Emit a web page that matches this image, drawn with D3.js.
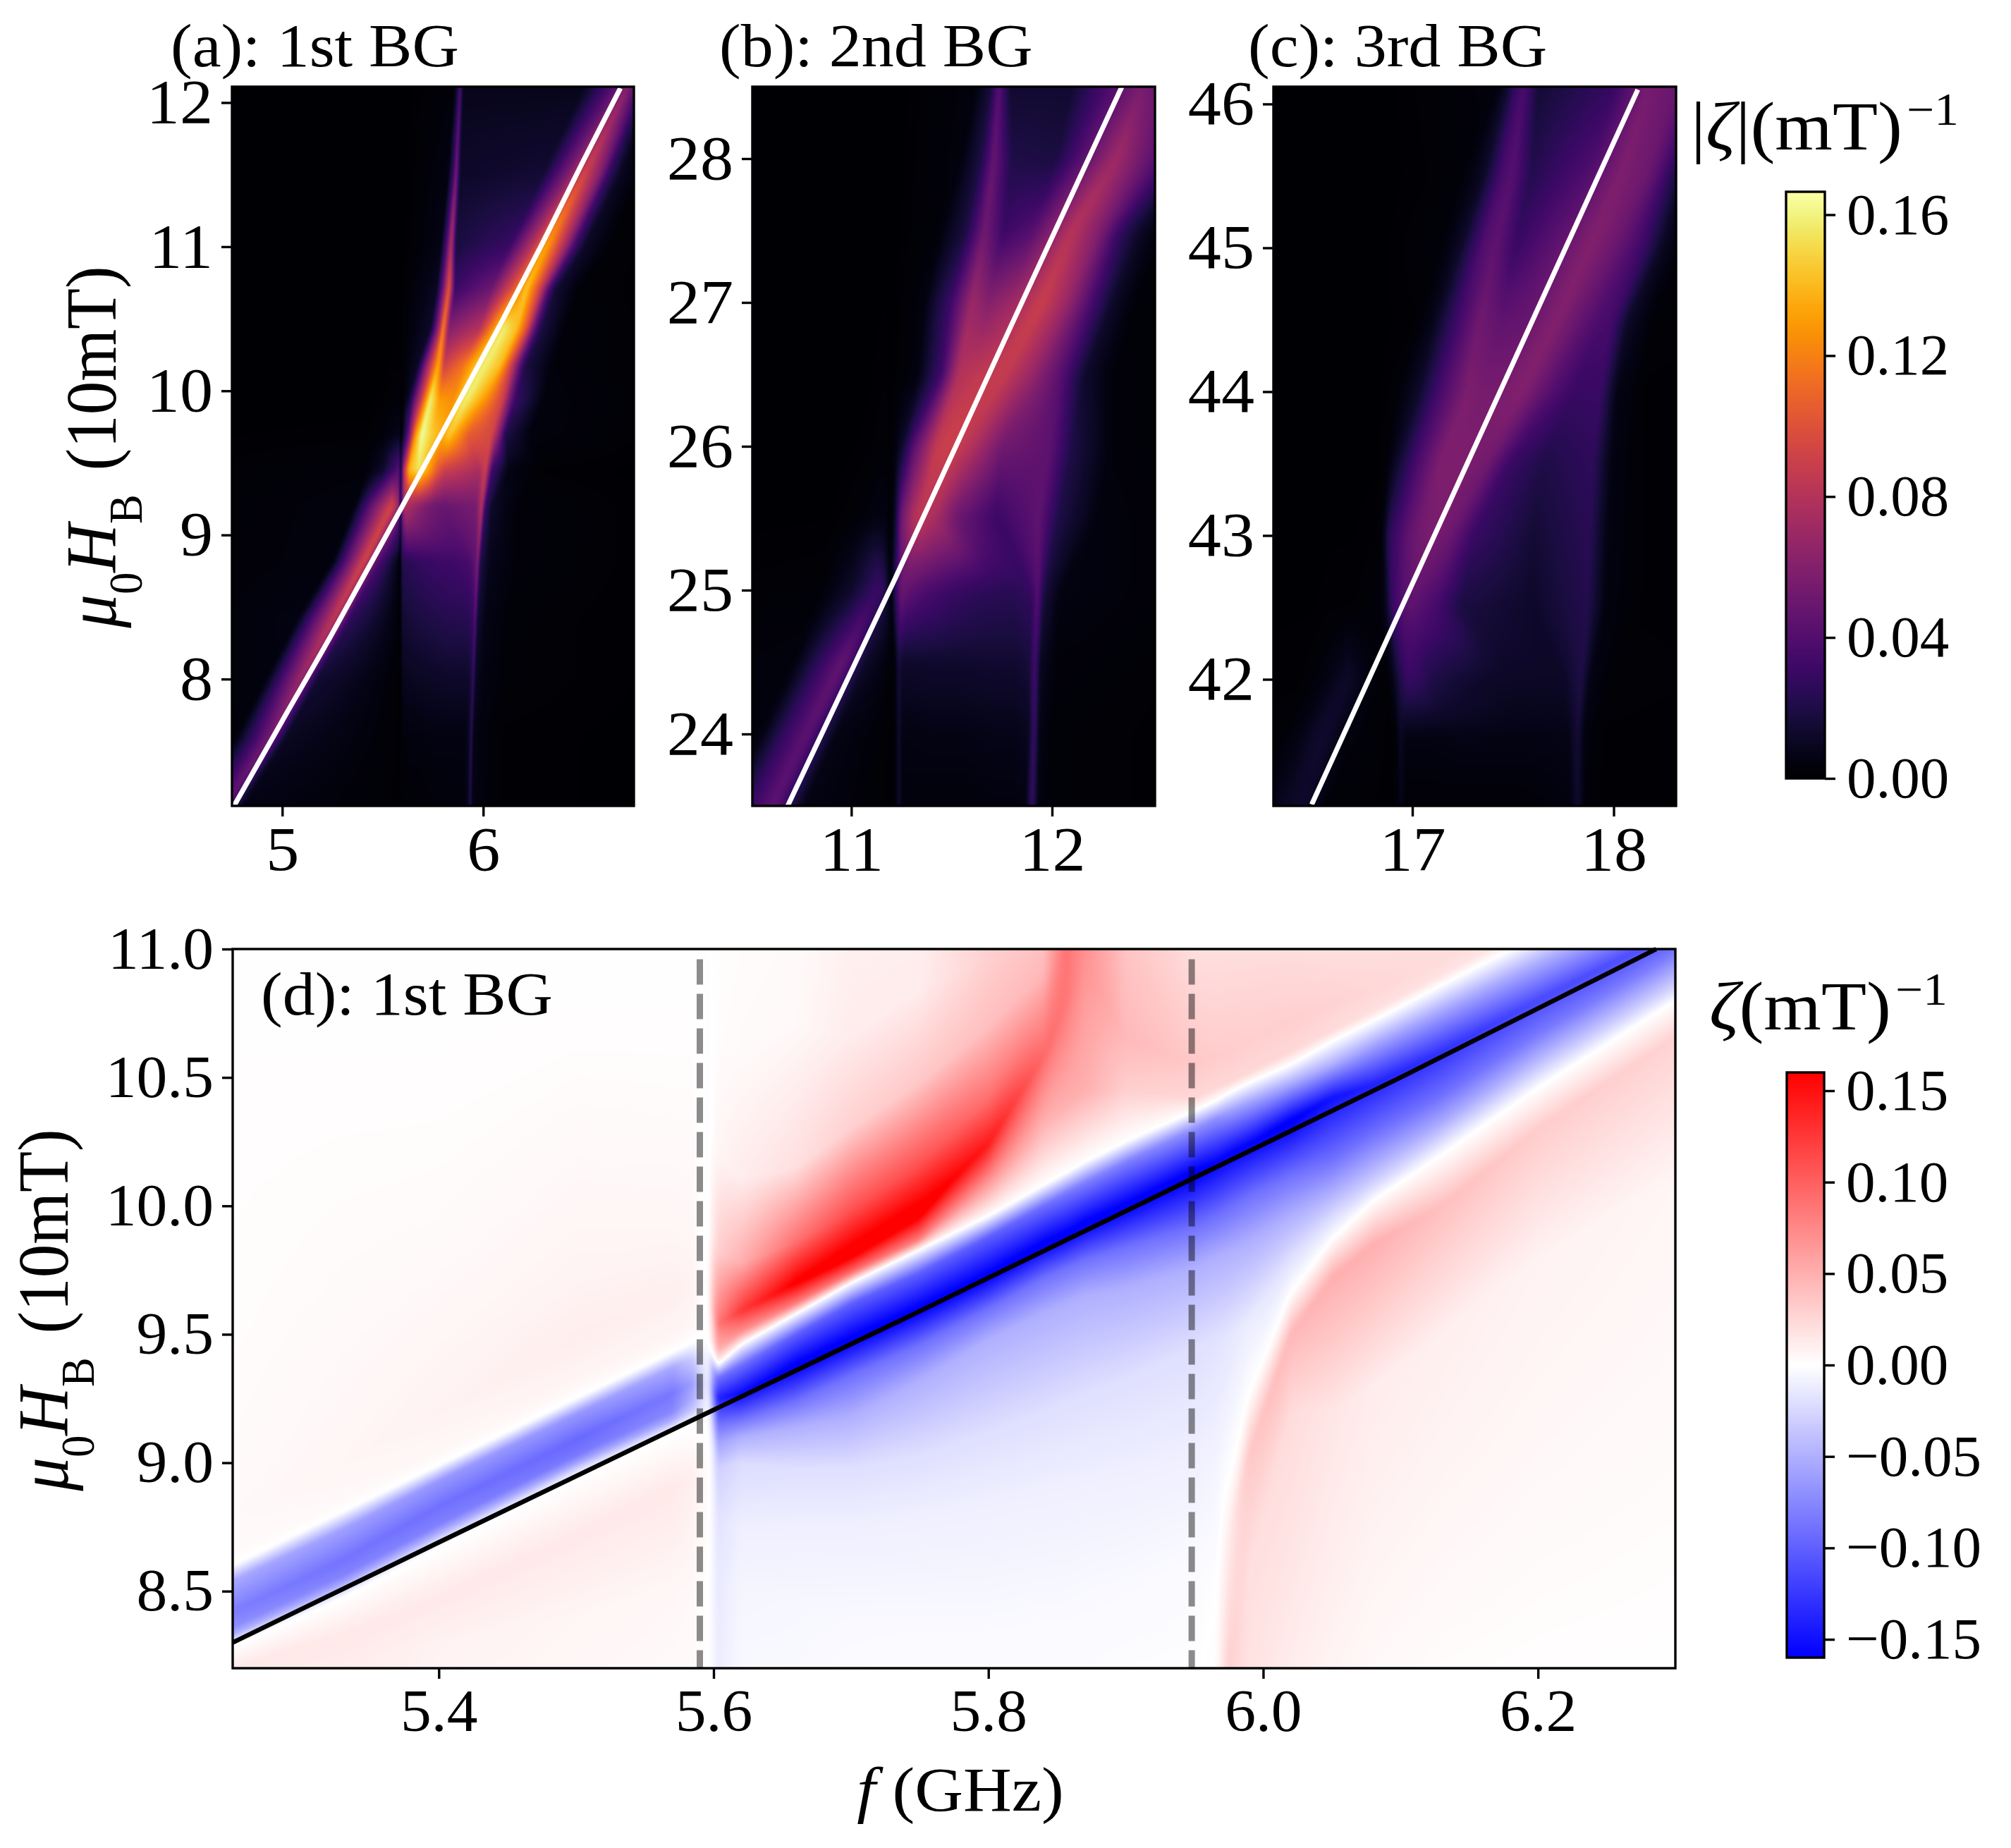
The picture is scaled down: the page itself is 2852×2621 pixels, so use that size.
<!DOCTYPE html>
<html>
<head>
<meta charset="utf-8">
<script src="https://cdnjs.cloudflare.com/ajax/libs/d3/7.8.5/d3.min.js"></script>
<style>
  html, body { margin: 0; padding: 0; background: #fff; }
  svg { display: block; }
  text { font-family: "Liberation Serif", serif; fill: #000; }
</style>
</head>
<body>
<svg id="fig" width="2852" height="2621"></svg>
<script>
// ---------- panel (a): cross-sections read along rows of constant field
const fieldA = [7.12, 7.6, 8.0, 8.4, 8.81, 9.2, 9.45, 9.69, 9.94, 10.18, 10.43, 10.71, 11.0, 11.5, 12.11];
const freqA = [
  [4,4.55,4.64,4.72,4.80,5.58,5.59,5.597,5.63,5.68,5.75,5.82,5.88,5.90,5.925,5.935,5.945,5.98,6.1,7],
  [4,4.77,4.86,4.945,5.02,5.58,5.59,5.597,5.63,5.68,5.75,5.82,5.88,5.91,5.93,5.94,5.95,5.985,6.1,7],
  [4,4.92,5.01,5.095,5.17,5.58,5.59,5.597,5.63,5.68,5.75,5.82,5.88,5.92,5.94,5.95,5.96,6.0,6.12,7],
  [4,5.07,5.17,5.25,5.33,5.575,5.588,5.597,5.63,5.68,5.75,5.82,5.88,5.925,5.95,5.96,5.97,6.01,6.13,7],
  [4,5.25,5.33,5.405,5.47,5.578,5.588,5.597,5.63,5.70,5.78,5.85,5.90,5.935,5.962,5.972,5.986,6.03,6.157,7],
  [4,5.36,5.45,5.545,5.575,5.584,5.589,5.597,5.61,5.64,5.68,5.72,5.76,5.80,5.965,5.993,6.01,6.04,6.16,7],
  [4,5.42,5.50,5.55,5.575,5.584,5.589,5.597,5.605,5.631,5.678,5.724,5.77,5.806,5.98,6.012,6.045,6.13,6.3,7],
  [4,5.42,5.50,5.55,5.575,5.584,5.589,5.597,5.631,5.66,5.692,5.748,5.796,5.83,5.923,6.04,6.068,6.11,6.23,7],
  [4,5.42,5.50,5.55,5.575,5.584,5.589,5.597,5.631,5.689,5.736,5.783,5.853,5.912,6.005,6.10,6.13,6.16,6.3,7],
  [4,5.42,5.50,5.55,5.575,5.584,5.589,5.597,5.678,5.748,5.777,5.806,5.90,6.005,6.09,6.15,6.185,6.215,6.35,7],
  [4,5.42,5.50,5.55,5.575,5.584,5.589,5.597,5.74,5.78,5.80,5.83,5.982,6.10,6.17,6.22,6.25,6.285,6.4,7],
  [4,5.42,5.50,5.55,5.575,5.584,5.589,5.597,5.77,5.80,5.83,5.86,6.04,6.157,6.215,6.29,6.325,6.36,6.48,7],
  [4,5.42,5.50,5.55,5.575,5.584,5.589,5.597,5.79,5.815,5.84,5.865,6.13,6.26,6.31,6.41,6.45,6.5,6.63,7],
  [4,5.42,5.50,5.55,5.575,5.584,5.589,5.597,5.825,5.85,5.865,5.885,6.3,6.43,6.50,6.58,6.62,6.68,6.8,7],
  [4,5.42,5.50,5.55,5.575,5.584,5.589,5.597,5.855,5.875,5.885,5.9,6.5,6.65,6.72,6.78,6.82,6.86,6.95,7]
];
const zetaA = [
  [0,.003,.025,.045,.006,.001,.001,.001,.002,.002,.003,.003,.003,.004,.008,.024,.006,.004,.001,0],
  [0,.003,.03,.055,.01,.001,.001,.003,.004,.004,.005,.005,.005,.005,.01,.026,.007,.004,.001,0],
  [0,.004,.04,.07,.015,.001,0,.008,.009,.01,.011,.012,.012,.012,.016,.032,.01,.005,.002,0],
  [0,.005,.05,.085,.025,.003,0,.014,.016,.018,.02,.022,.022,.023,.028,.044,.014,.006,.002,0],
  [0,.004,.05,.095,.04,.005,0,.022,.024,.028,.031,.032,.034,.036,.045,.06,.02,.008,.003,0],
  [0,.004,.05,.095,.075,.05,0,.06,.08,.072,.062,.055,.05,.048,.055,.08,.03,.012,.003,0],
  [0,.003,.012,.03,.04,.04,0,.05,.08,.14,.155,.135,.105,.09,.075,.09,.03,.005,.001,0],
  [0,.001,.003,.006,.008,.009,.001,.004,.05,.125,.165,.145,.135,.145,.105,.095,.07,.02,.004,0],
  [0,0,.001,.002,.003,.003,.0005,.001,.012,.085,.16,.13,.125,.16,.13,.09,.055,.03,.004,0],
  [0,0,0,.001,.001,.001,0,.001,.012,.10,.135,.09,.115,.16,.14,.08,.04,.018,.003,0],
  [0,0,0,0,.001,.001,0,.001,.012,.07,.122,.06,.08,.16,.14,.095,.05,.02,.003,0],
  [0,0,0,0,.0005,.0005,0,.0005,.01,.05,.105,.03,.05,.105,.145,.085,.04,.015,.002,0],
  [0,0,0,0,0,0,0,0,.006,.035,.08,.018,.03,.09,.135,.07,.035,.012,.002,0],
  [0,0,0,0,0,0,0,0,.005,.028,.055,.012,.015,.06,.095,.06,.03,.01,.001,0],
  [0,0,0,0,0,0,0,0,.003,.018,.04,.008,.008,.04,.06,.03,.015,.005,.001,0]
];
const lineAf = [4.76, 5.0, 5.25, 5.4, 5.59, 5.75, 5.95, 6.1, 6.286, 6.5, 6.683];
const lineAh = [7.12, 7.71, 8.32, 8.7, 9.18, 9.59, 10.11, 10.5, 11.0, 11.6, 12.1];

// ---------- panel (b)
const fieldB = [23.5, 24, 24.5, 25, 25.5, 26, 26.5, 27, 27.5, 28, 28.5];
const freqB = [
  [9.5,10.35,10.5,10.61,10.76,11.19,11.21,11.226,11.236,11.25,11.4,11.55,11.7,11.82,11.87,11.90,11.93,12.0,13],
  [9.5,10.55,10.68,10.78,10.92,11.19,11.21,11.226,11.236,11.25,11.4,11.55,11.7,11.82,11.885,11.91,11.935,12.0,13],
  [9.5,10.72,10.85,10.96,11.07,11.19,11.208,11.226,11.236,11.25,11.4,11.55,11.7,11.82,11.89,11.915,11.94,12.02,13],
  [9.5,10.85,11.0,11.13,11.16,11.185,11.198,11.222,11.25,11.29,11.36,11.5,11.65,11.8,11.9,11.93,11.96,12.04,13],
  [9.5,10.9,11.02,11.1,11.15,11.175,11.195,11.22,11.245,11.31,11.345,11.37,11.42,11.52,11.72,11.935,12.03,12.23,13],
  [9.5,10.9,11.02,11.1,11.15,11.175,11.195,11.22,11.26,11.31,11.42,11.46,11.515,11.60,11.75,11.99,12.1,12.3,13],
  [9.5,10.9,11.02,11.1,11.15,11.175,11.195,11.22,11.33,11.45,11.53,11.62,11.69,11.76,11.89,12.05,12.16,12.3,13],
  [9.5,10.9,11.02,11.1,11.15,11.175,11.195,11.22,11.36,11.49,11.60,11.68,11.80,11.95,12.07,12.2,12.3,12.42,13],
  [9.5,10.9,11.02,11.1,11.15,11.175,11.195,11.22,11.44,11.57,11.665,11.76,11.9,12.1,12.24,12.35,12.45,12.55,13],
  [9.5,10.9,11.02,11.1,11.15,11.175,11.195,11.22,11.55,11.65,11.71,11.80,12.02,12.32,12.45,12.6,12.7,12.8,13],
  [9.5,10.9,11.02,11.1,11.15,11.175,11.195,11.22,11.62,11.70,11.735,11.79,12.1,12.45,12.6,12.75,12.85,12.95,13]
];
const zetaB = [
  [0,.004,.03,.045,.006,.001,.0005,.004,.018,.004,.003,.003,.004,.004,.006,.03,.005,.002,0],
  [0,.004,.03,.045,.006,.001,.0005,.004,.018,.005,.006,.006,.007,.007,.009,.032,.006,.002,0],
  [0,.004,.028,.048,.012,.003,.0005,.008,.02,.012,.013,.013,.014,.014,.017,.036,.01,.003,0],
  [0,.002,.012,.03,.028,.012,.0005,.03,.05,.045,.038,.03,.025,.024,.028,.042,.018,.005,0],
  [0,.0005,.002,.004,.005,.005,.0005,.012,.05,.08,.085,.08,.074,.05,.03,.045,.02,.004,0],
  [0,0,.0005,.001,.002,.002,.0005,.004,.015,.042,.086,.09,.09,.08,.052,.044,.02,.003,0],
  [0,0,0,.0005,.001,.001,.0003,.001,.004,.032,.078,.085,.087,.088,.07,.04,.013,.003,0],
  [0,0,0,.0003,.0005,.0005,.0002,.0005,.004,.03,.07,.06,.07,.09,.07,.035,.012,.002,0],
  [0,0,0,0,.0003,.0003,0,.0003,.003,.018,.052,.03,.04,.082,.058,.025,.01,.003,0],
  [0,0,0,0,0,0,0,0,.004,.02,.048,.02,.018,.072,.052,.03,.012,.004,0],
  [0,0,0,0,0,0,0,0,.004,.018,.042,.014,.014,.056,.042,.02,.008,.002,0]
];
const lineBf = [10.683, 11.218, 11.8, 12.348];
const lineBh = [23.5, 25.08, 26.85, 28.5];

// ---------- panel (c)
const fieldC = [41.12, 41.6, 42, 42.5, 43, 43.5, 44, 44.5, 45, 45.5, 46.12];
const freqC = [
  [15.5,16.285,16.364,16.457,16.577,16.87,16.91,16.93,16.943,16.963,17.1,17.216,17.4,17.55,17.68,17.787,17.821,17.854,17.947,19],
  [15.5,16.35,16.42,16.55,16.68,16.87,16.90,16.925,16.94,16.965,17.1,17.25,17.45,17.55,17.68,17.78,17.82,17.855,17.95,19],
  [15.5,16.45,16.55,16.68,16.8,16.85,16.87,16.9,16.94,16.98,17.04,17.09,17.22,17.35,17.5,17.75,17.84,17.88,17.97,19],
  [15.5,16.5,16.6,16.7,16.78,16.83,16.85,16.875,16.9,16.95,16.97,16.99,17.05,17.11,17.24,17.6,17.87,17.96,18.15,19],
  [15.5,16.5,16.6,16.7,16.78,16.82,16.84,16.855,16.883,16.976,17.03,17.08,17.13,17.19,17.3,17.6,17.88,17.97,18.15,19],
  [15.5,16.5,16.6,16.7,16.78,16.82,16.84,16.87,16.92,17.016,17.136,17.2,17.27,17.375,17.48,17.65,17.895,17.99,18.15,19],
  [15.5,16.5,16.6,16.7,16.78,16.82,16.84,16.92,17.03,17.136,17.27,17.35,17.42,17.548,17.695,17.8,17.935,18.015,18.15,19],
  [15.5,16.5,16.6,16.7,16.78,16.82,16.84,17.02,17.11,17.215,17.335,17.44,17.56,17.72,17.855,17.93,17.99,18.07,18.19,19],
  [15.5,16.5,16.6,16.7,16.78,16.82,16.84,17.15,17.24,17.35,17.415,17.51,17.735,17.88,18.0,18.08,18.15,18.24,18.32,19],
  [15.5,16.5,16.6,16.7,16.78,16.82,16.84,17.24,17.35,17.44,17.495,17.59,17.88,18.03,18.17,18.22,18.28,18.35,18.42,19],
  [15.5,16.5,16.6,16.7,16.78,16.82,16.84,17.43,17.48,17.52,17.555,17.63,18.0,18.17,18.32,18.38,18.45,18.55,18.65,19]
];
const zetaC = [
  [0,.006,.01,.013,.002,.001,.001,.002,.009,.002,.002,.002,.002,.002,.003,.004,.014,.003,.001,0],
  [0,.002,.005,.014,.004,.001,.001,.003,.011,.005,.005,.006,.006,.006,.006,.007,.016,.004,.001,0],
  [0,.001,.004,.012,.004,.002,.001,.006,.02,.03,.027,.02,.015,.012,.011,.011,.02,.006,.002,0],
  [0,.0005,.001,.001,.002,.003,.004,.012,.03,.04,.043,.045,.04,.035,.018,.012,.022,.004,.001,0],
  [0,0,.0005,.0005,.001,.001,.002,.006,.025,.045,.052,.056,.054,.05,.03,.015,.024,.005,.001,0],
  [0,0,0,0,.0003,.0005,.001,.002,.012,.035,.058,.058,.057,.052,.03,.02,.026,.005,.001,0],
  [0,0,0,0,0,.0003,.0005,.002,.012,.035,.057,.055,.055,.06,.04,.03,.03,.006,.001,0],
  [0,0,0,0,0,.0002,.0003,.001,.008,.03,.052,.045,.047,.06,.045,.037,.035,.012,.002,0],
  [0,0,0,0,0,.0002,.0002,.003,.012,.04,.045,.03,.047,.06,.05,.04,.03,.01,.004,0],
  [0,0,0,0,0,0,0,.002,.01,.035,.042,.022,.04,.058,.05,.04,.025,.01,.003,0],
  [0,0,0,0,0,0,0,.004,.015,.03,.036,.015,.028,.055,.048,.04,.03,.012,.002,0]
];
const lineCf = [16.5, 18.12];
const lineCh = [41.13, 46.1];

// ---------- panel (d): cross-sections read along columns of constant frequency
const freqD = [5.25,5.33,5.4,5.5,5.57,5.585,5.596,5.603,5.62,5.66,5.70,5.75,5.80,5.84,5.857,5.87,5.90,5.95,5.966,5.975,5.99,6.02,6.05,6.08,6.13,6.2,6.3];
const fieldD = [
  [7.5,8.1,8.2,8.286,8.31,8.33,8.36,8.42,8.54,8.6,8.65,8.8,9.0,9.5,10.5,12],
  [7.5,8.2,8.33,8.475,8.5,8.53,8.56,8.62,8.74,8.81,8.86,9.0,9.2,9.7,10.5,12],
  [7.5,8.3,8.47,8.67,8.7,8.73,8.76,8.83,8.93,8.99,9.05,9.2,9.45,9.9,10.5,12],
  [7.5,8.4,8.72,8.94,8.97,9.0,9.03,9.09,9.19,9.25,9.31,9.48,9.75,10.2,10.7,12],
  [7.5,8.5,8.9,9.11,9.14,9.17,9.2,9.27,9.37,9.43,9.49,9.65,9.9,10.3,10.7,12],
  [7.5,8.5,8.95,9.15,9.18,9.21,9.25,9.31,9.41,9.47,9.53,9.68,9.92,10.3,10.7,12],
  [7.5,8.5,8.95,9.15,9.18,9.21,9.25,9.31,9.41,9.47,9.53,9.68,9.92,10.3,10.7,12],
  [7.5,8.2,8.55,8.78,8.98,9.08,9.15,9.25,9.33,9.38,9.44,9.54,9.82,10.2,10.6,12],
  [7.5,8.2,8.5,8.75,9.0,9.1,9.17,9.27,9.38,9.46,9.51,9.59,9.78,10.1,10.6,12],
  [7.5,8.2,8.45,8.76,8.98,9.14,9.24,9.38,9.5,9.58,9.62,9.70,9.86,10.15,10.7,12],
  [7.5,8.2,8.4,8.76,8.98,9.18,9.34,9.48,9.62,9.70,9.74,9.81,9.98,10.30,10.66,12],
  [7.5,8.2,8.4,8.8,9.03,9.32,9.46,9.6,9.74,9.83,9.87,9.97,10.16,10.48,10.84,12],
  [7.5,8.2,8.4,8.85,9.12,9.48,9.6,9.73,9.88,9.96,10.1,10.24,10.42,10.7,10.96,12],
  [7.5,8.2,8.45,8.9,9.2,9.58,9.72,9.85,10.0,10.08,10.3,10.58,10.75,10.9,11.0,12],
  [7.5,8.2,8.45,8.92,9.24,9.62,9.76,9.89,10.05,10.13,10.4,10.8,10.95,11.05,11.15,12],
  [7.5,8.2,8.5,8.94,9.27,9.65,9.79,9.93,10.09,10.17,10.45,10.95,11.05,11.15,11.25,12],
  [7.5,8.2,8.55,8.97,9.33,9.68,9.84,10.0,10.17,10.25,10.45,10.65,10.85,11.05,11.3,12],
  [7.5,8.2,8.6,9.05,9.45,9.76,9.92,10.13,10.3,10.37,10.42,10.55,10.7,10.85,11,12],
  [7.5,8.2,8.55,9.0,9.48,9.8,9.96,10.17,10.34,10.41,10.46,10.58,10.72,10.86,11,12],
  [7.5,8.2,8.7,8.93,9.5,9.82,9.99,10.2,10.36,10.44,10.48,10.6,10.74,10.88,11,12],
  [8.2,8.6,9.04,9.27,9.55,9.86,10.04,10.24,10.40,10.48,10.52,10.64,10.78,10.9,11,12],
  [8.2,9.2,9.5,9.66,9.8,9.96,10.12,10.33,10.48,10.55,10.6,10.72,10.84,10.93,11,12],
  [8.2,9.2,9.72,9.87,9.95,10.05,10.18,10.42,10.55,10.64,10.68,10.78,10.88,10.95,11,12],
  [8.2,9.3,9.85,10.02,10.08,10.17,10.28,10.47,10.62,10.72,10.76,10.84,10.92,10.97,11.02,12],
  [8.2,9.5,10.0,10.2,10.26,10.33,10.43,10.6,10.75,10.86,10.9,10.95,11,11.05,11.1,12],
  [8.2,9.8,10.3,10.46,10.52,10.58,10.67,10.8,10.95,11.05,11.1,11.15,11.2,11.25,11.3,12],
  [8.2,10.1,10.66,10.8,10.85,10.91,10.98,11.07,11.2,11.3,11.35,11.4,11.45,11.5,11.55,12]
];
const zetaD = [
  [.006,.012,.014,0,-.022,-.05,-.072,-.082,-.055,0,.003,.004,.003,.002,.001,0],
  [.006,.012,.014,0,-.022,-.055,-.078,-.088,-.06,0,.004,.006,.005,.003,.001,0],
  [.004,.008,.014,0,-.022,-.055,-.08,-.09,-.065,0,.005,.008,.006,.003,.001,0],
  [.002,.006,.014,0,-.022,-.06,-.085,-.095,-.065,0,.006,.011,.007,.004,.001,0],
  [.001,.005,.014,0,-.02,-.055,-.075,-.085,-.055,0,.006,.01,.006,.003,.001,0],
  [.001,.004,.01,0,-.015,-.035,-.05,-.06,-.03,0,.005,.008,.005,.003,.001,0],
  [0,.001,.002,0,-.002,-.004,-.006,-.008,-.004,-.002,-.002,-.002,-.002,-.002,-.001,0],
  [-.004,-.012,-.014,-.018,-.03,-.06,-.09,-.14,-.09,0,.05,.085,.03,.006,.002,0],
  [-.002,-.004,-.006,-.01,-.022,-.05,-.09,-.155,-.09,0,.07,.125,.05,.012,.003,0],
  [-.002,-.004,-.005,-.01,-.02,-.05,-.09,-.165,-.1,0,.08,.165,.09,.02,.004,0],
  [-.002,-.003,-.004,-.01,-.02,-.05,-.09,-.165,-.1,0,.09,.175,.11,.03,.012,.003],
  [-.001,-.002,-.004,-.01,-.02,-.05,-.09,-.165,-.1,0,.08,.175,.11,.035,.012,.004],
  [-.001,-.002,-.004,-.01,-.02,-.05,-.09,-.165,-.1,0,.07,.145,.09,.04,.03,.01],
  [-.001,-.002,-.004,-.01,-.02,-.05,-.09,-.165,-.09,0,.045,.095,.07,.045,.04,.01],
  [-.001,-.002,-.004,-.01,-.02,-.05,-.09,-.165,-.085,0,.05,.085,.088,.09,.09,.03],
  [-.001,-.002,-.004,-.01,-.02,-.05,-.09,-.165,-.08,0,.05,.068,.07,.07,.06,.02],
  [-.001,-.0015,-.004,-.01,-.02,-.05,-.09,-.165,-.08,0,.03,.044,.04,.036,.032,.02],
  [-.0005,-.001,-.003,-.01,-.02,-.05,-.09,-.165,-.07,0,.025,.034,.03,.025,.02,.01],
  [0,.002,-.001,-.007,-.018,-.05,-.09,-.16,-.07,0,.025,.032,.028,.024,.02,.01],
  [.02,.03,.012,0,-.016,-.05,-.09,-.16,-.065,0,.025,.032,.028,.024,.02,.01],
  [.018,.02,.035,0,-.012,-.05,-.09,-.16,-.06,0,.025,.03,.027,.024,.02,.01],
  [.012,.022,.045,0,-.02,-.05,-.09,-.165,-.05,0,.025,.03,.026,.024,.02,.01],
  [.007,.016,.05,0,-.02,-.05,-.09,-.15,-.05,0,.022,.028,.025,.022,.02,.01],
  [.004,.012,.05,0,-.025,-.055,-.09,-.14,-.06,0,.02,.025,.023,.021,.02,.01],
  [.002,.01,.04,0,-.025,-.055,-.09,-.13,-.06,0,.018,.022,.021,.02,.02,.01],
  [.001,.008,.032,0,-.025,-.05,-.085,-.115,-.05,0,.015,.018,.018,.018,.018,.01],
  [.0005,.006,.028,0,-.025,-.05,-.08,-.11,-.05,0,.01,.012,.012,.012,.012,.01]
];
const lineDf = [5.25, 5.4, 5.59, 5.75, 5.95, 6.1, 6.286];
const lineDh = [8.3, 8.69, 9.18, 9.59, 10.11, 10.5, 11.0];
const dashedD = [5.59, 5.948];

// ---------- ticks and labels
const titles = ['(a): 1st BG', '(b): 2nd BG', '(c): 3rd BG', '(d): 1st BG'];
const ticksAx = [5, 6], ticksAy = [8, 9, 10, 11, 12];
const ticksBx = [11, 12], ticksBy = [24, 25, 26, 27, 28];
const ticksCx = [17, 18], ticksCy = [42, 43, 44, 45, 46];
const ticksDx = [5.4, 5.6, 5.8, 6.0, 6.2], ticksDy = [8.5, 9.0, 9.5, 10.0, 10.5, 11.0];
const ticksAbs = [0, 0.04, 0.08, 0.12, 0.16];
const ticksSigned = [-0.15, -0.10, -0.05, 0, 0.05, 0.10, 0.15];

const svg = d3.select('#fig');
const SX = 1.07;

// reference text runs a little wide, stretch it in x only
function stretch(sel, sx) {
  sel.each(function () {
    const x = +this.getAttribute('x') || 0;
    this.setAttribute('transform', `translate(${x * (1 - sx)},0) scale(${sx},1)`);
  });
}

const absColor = d3.scaleSequential(d3.interpolateInferno).domain([0, 0.1665]).clamp(true);
const signedColor = d3.scaleLinear().domain([-0.16, 0, 0.16]).range(['#0000ff', '#ffffff', '#ff0000']).clamp(true);

// running-sum box blur, takes the creases out of the shading
function blur1(src, n, stride, count, lineStride, r) {
  if (r < 1) return;
  const buf = new Float32Array(n);
  for (let l = 0; l < count; l++) {
    const base = l * lineStride;
    for (let i = 0; i < n; i++) buf[i] = src[base + i * stride];
    let sum = 0;
    for (let i = -r; i <= r; i++) sum += buf[Math.max(0, Math.min(n - 1, i))];
    for (let i = 0; i < n; i++) {
      src[base + i * stride] = sum / (2 * r + 1);
      sum += buf[Math.min(n - 1, i + r + 1)] - buf[Math.max(0, i - r)];
    }
  }
}

// paints a matrix given as cross-sections, same idea as imshow with smooth shading
function drawField(p) {
  const W = p.box[2] - p.box[0], H = p.box[3] - p.box[1];
  const cv = document.createElement('canvas');
  cv.width = W; cv.height = H;
  const ctx = cv.getContext('2d');
  const img = ctx.createImageData(W, H);
  const d0 = p.color.domain()[0], d1 = p.color.domain().at(-1);
  const lut = d3.range(1024).map(i => d3.rgb(p.color(d0 + (i / 1023) * (d1 - d0))));
  const field = new Float32Array(W * H);

  const outerN = p.alongX ? W : H, innerN = p.alongX ? H : W;
  const outerS = p.alongX ? p.x : p.y, innerS = p.alongX ? p.y : p.x;
  const outerO = p.alongX ? p.box[0] : p.box[1], innerO = p.alongX ? p.box[1] : p.box[0];

  for (let a = 0; a < outerN; a++) {
    const s = outerS.invert(outerO + a + 0.5);
    let i = d3.bisectRight(p.stations, s) - 1;
    i = Math.max(0, Math.min(p.stations.length - 2, i));
    const t = Math.max(0, Math.min(1, (s - p.stations[i]) / (p.stations[i + 1] - p.stations[i])));
    const kn = p.knots[i].map((k, j) => k + t * (p.knots[i + 1][j] - k));
    const zs = p.values[i].map((z, j) => z + t * (p.values[i + 1][j] - z));
    for (let b = 0; b < innerN; b++) {
      const c = innerS.invert(innerO + b + 0.5);
      let k = d3.bisectRight(kn, c) - 1;
      k = Math.max(0, Math.min(kn.length - 2, k));
      const dk = kn[k + 1] - kn[k];
      const u = dk > 0 ? Math.max(0, Math.min(1, (c - kn[k]) / dk)) : 0;
      const px = p.alongX ? a : b, py = p.alongX ? b : a;
      field[py * W + px] = zs[k] + u * (zs[k + 1] - zs[k]);
    }
  }
  for (let pass = 0; pass < 2; pass++) {
    blur1(field, W, 1, H, W, p.blur[0]);
    blur1(field, H, W, W, 1, p.blur[1]);
  }
  for (let o = 0; o < W * H; o++) {
    const col = lut[Math.round(Math.max(0, Math.min(1, (field[o] - d0) / (d1 - d0))) * 1023)];
    img.data[o * 4] = col.r; img.data[o * 4 + 1] = col.g; img.data[o * 4 + 2] = col.b; img.data[o * 4 + 3] = 255;
  }
  ctx.putImageData(img, 0, 0);
  svg.append('image')
    .attr('x', p.box[0]).attr('y', p.box[1])
    .attr('width', W).attr('height', H)
    .attr('preserveAspectRatio', 'none')
    .attr('href', cv.toDataURL('image/png'));
}

function drawAxes(p) {
  const fmt = p.fmt || (d => d);
  const g = svg.append('g');
  g.append('rect')
    .attr('x', p.box[0]).attr('y', p.box[1])
    .attr('width', p.box[2] - p.box[0]).attr('height', p.box[3] - p.box[1])
    .attr('fill', 'none').attr('stroke', '#000').attr('stroke-width', 3.4);

  const ax = g.append('g').attr('transform', `translate(0,${p.box[3]})`)
    .call(d3.axisBottom(p.x).tickValues(p.ticksX).tickFormat(fmt).tickSize(15).tickPadding(14));
  const ay = g.append('g').attr('transform', `translate(${p.box[0]},0)`)
    .call(d3.axisLeft(p.y).tickValues(p.ticksY).tickFormat(fmt).tickSize(15).tickPadding(12));
  [ax, ay].forEach(a => {
    a.select('.domain').remove();
    a.selectAll('line').attr('stroke-width', 3.4);
    a.selectAll('text').attr('font-size', p.tfs).attr('font-family', '"Liberation Serif", serif').call(stretch, p.tsx);
  });
}

const panels = [
  { box: [329, 123, 899, 1143], x: d3.scaleLinear([4.75, 6.75], [329, 899]), y: d3.scaleLinear([7.12, 12.11], [1143, 123]), blur: [1, 5], tfs: 88, tsx: 1.07,
    stations: fieldA, knots: freqA, values: zetaA, color: absColor, ticksX: ticksAx, ticksY: ticksAy, lf: lineAf, lh: lineAh, lc: '#fff', lw: 7 },
  { box: [1067, 123, 1638, 1143], x: d3.scaleLinear([10.507, 12.513], [1067, 1638]), y: d3.scaleLinear([23.5, 28.5], [1143, 123]), blur: [2, 11], tfs: 88, tsx: 1.07,
    stations: fieldB, knots: freqB, values: zetaB, color: absColor, ticksX: ticksBx, ticksY: ticksBy, lf: lineBf, lh: lineBh, lc: '#fff', lw: 7 },
  { box: [1806, 123, 2377, 1143], x: d3.scaleLinear([16.31, 18.31], [1806, 2377]), y: d3.scaleLinear([41.12, 46.12], [1143, 123]), blur: [2, 11], tfs: 88, tsx: 1.07,
    stations: fieldC, knots: freqC, values: zetaC, color: absColor, ticksX: ticksCx, ticksY: ticksCy, lf: lineCf, lh: lineCh, lc: '#fff', lw: 7 },
  { box: [330, 1346, 2376, 2366], x: d3.scaleLinear([5.25, 6.3], [330, 2376]), y: d3.scaleLinear([8.2, 11.0], [2366, 1346]), blur: [3, 1], tfs: 85, tsx: 1.03,
    stations: freqD, knots: fieldD, values: zetaD, color: signedColor, alongX: true, ticksX: ticksDx, ticksY: ticksDy, lf: lineDf, lh: lineDh, lc: '#000', lw: 6.5,
    fmt: d3.format('.1f') }
];

panels.forEach(p => {
  drawField(p);
  const line = d3.line().x((d, i) => p.x(p.lf[i])).y((d, i) => p.y(p.lh[i])).curve(d3.curveMonotoneX);
  svg.append('path').attr('d', line(p.lf)).attr('fill', 'none').attr('stroke', p.lc).attr('stroke-width', p.lw);
  if (p.alongX) {
    dashedD.forEach(f => {
      svg.append('line')
        .attr('x1', p.x(f)).attr('x2', p.x(f)).attr('y1', p.y(10.96)).attr('y2', p.box[3])
        .attr('stroke', '#000').attr('stroke-opacity', 0.45).attr('stroke-width', 9)
        .attr('stroke-dasharray', '36,13');
    });
  }
  drawAxes(p);
});

// mixed roman / italic / sub / sup labels
function mathText(parent, parts, fs) {
  const t = parent.append('text').attr('font-size', fs);
  let shift = 0;
  parts.forEach(q => {
    const lvl = q.lvl || 0;
    const ts = t.append('tspan').text(q.t);
    if (q.it) ts.attr('font-style', 'italic');
    ts.attr('font-size', lvl ? fs * 0.66 : fs);
    const y = lvl * fs * -0.36;
    ts.attr('dy', y - shift);
    if (q.dx) ts.attr('dx', q.dx);
    shift = y;
  });
  return t;
}

const labelMu = [{ t: 'μ', it: true }, { t: '0', lvl: -1 }, { t: 'H', it: true }, { t: 'B', lvl: -1 }, { t: ' (10mT)', dx: 10 }];
mathText(svg, labelMu, 95).attr('text-anchor', 'middle')
  .attr('transform', `translate(164,634) scale(${SX},1) rotate(-90)`);
mathText(svg, labelMu, 95).attr('text-anchor', 'middle')
  .attr('transform', `translate(96,1858) scale(${SX},1) rotate(-90)`);
mathText(svg, [{ t: 'f', it: true }, { t: ' (GHz)' }], 89).attr('text-anchor', 'middle')
  .attr('transform', `translate(1362,2568) scale(${SX},1)`);

const titlePos = [[242, 94], [1020, 94], [1770, 94], [370, 1439]];
titles.forEach((t, i) => {
  svg.append('text').attr('font-size', 86).text(t)
    .attr('transform', `translate(${titlePos[i][0]},${titlePos[i][1]}) scale(${SX},1)`);
});

mathText(svg, [{ t: '|' }, { t: 'ζ', it: true }, { t: '|(mT)' }, { t: '−1', lvl: 1, dx: 6 }], 98)
  .attr('transform', `translate(2398,212) scale(${SX},1)`);
mathText(svg, [{ t: 'ζ', it: true }, { t: '(mT)' }, { t: '−1', lvl: 1, dx: 6 }], 98)
  .attr('transform', `translate(2424,1460) scale(${SX},1)`);

// colorbars
function colorbar(box, color, ticks, fmt) {
  const y = d3.scaleLinear([color.domain()[0], color.domain().at(-1)], [box[3], box[1]]);
  const g = svg.append('g');
  const n = box[3] - box[1];
  g.selectAll('rect.cell').data(d3.range(n)).join('rect').attr('class', 'cell')
    .attr('x', box[0]).attr('width', box[2] - box[0])
    .attr('y', i => box[1] + i).attr('height', 1.5)
    .attr('fill', i => color(y.invert(box[1] + i + 0.5)));
  g.append('rect').attr('x', box[0]).attr('y', box[1]).attr('width', box[2] - box[0]).attr('height', n)
    .attr('fill', 'none').attr('stroke', '#000').attr('stroke-width', 3.4);
  const a = g.append('g').attr('transform', `translate(${box[2]},0)`)
    .call(d3.axisRight(y).tickValues(ticks).tickFormat(fmt).tickSize(15).tickPadding(16));
  a.select('.domain').remove();
  a.selectAll('line').attr('stroke-width', 3.4);
  a.selectAll('text').attr('font-size', 83).attr('font-family', '"Liberation Serif", serif').call(stretch, 1.0);
}
colorbar([2533, 272, 2588, 1104], absColor, ticksAbs, d3.format('.2f'));
colorbar([2534, 1521, 2587, 2351], signedColor, ticksSigned, d3.format('.2f'));
</script>
</body>
</html>
